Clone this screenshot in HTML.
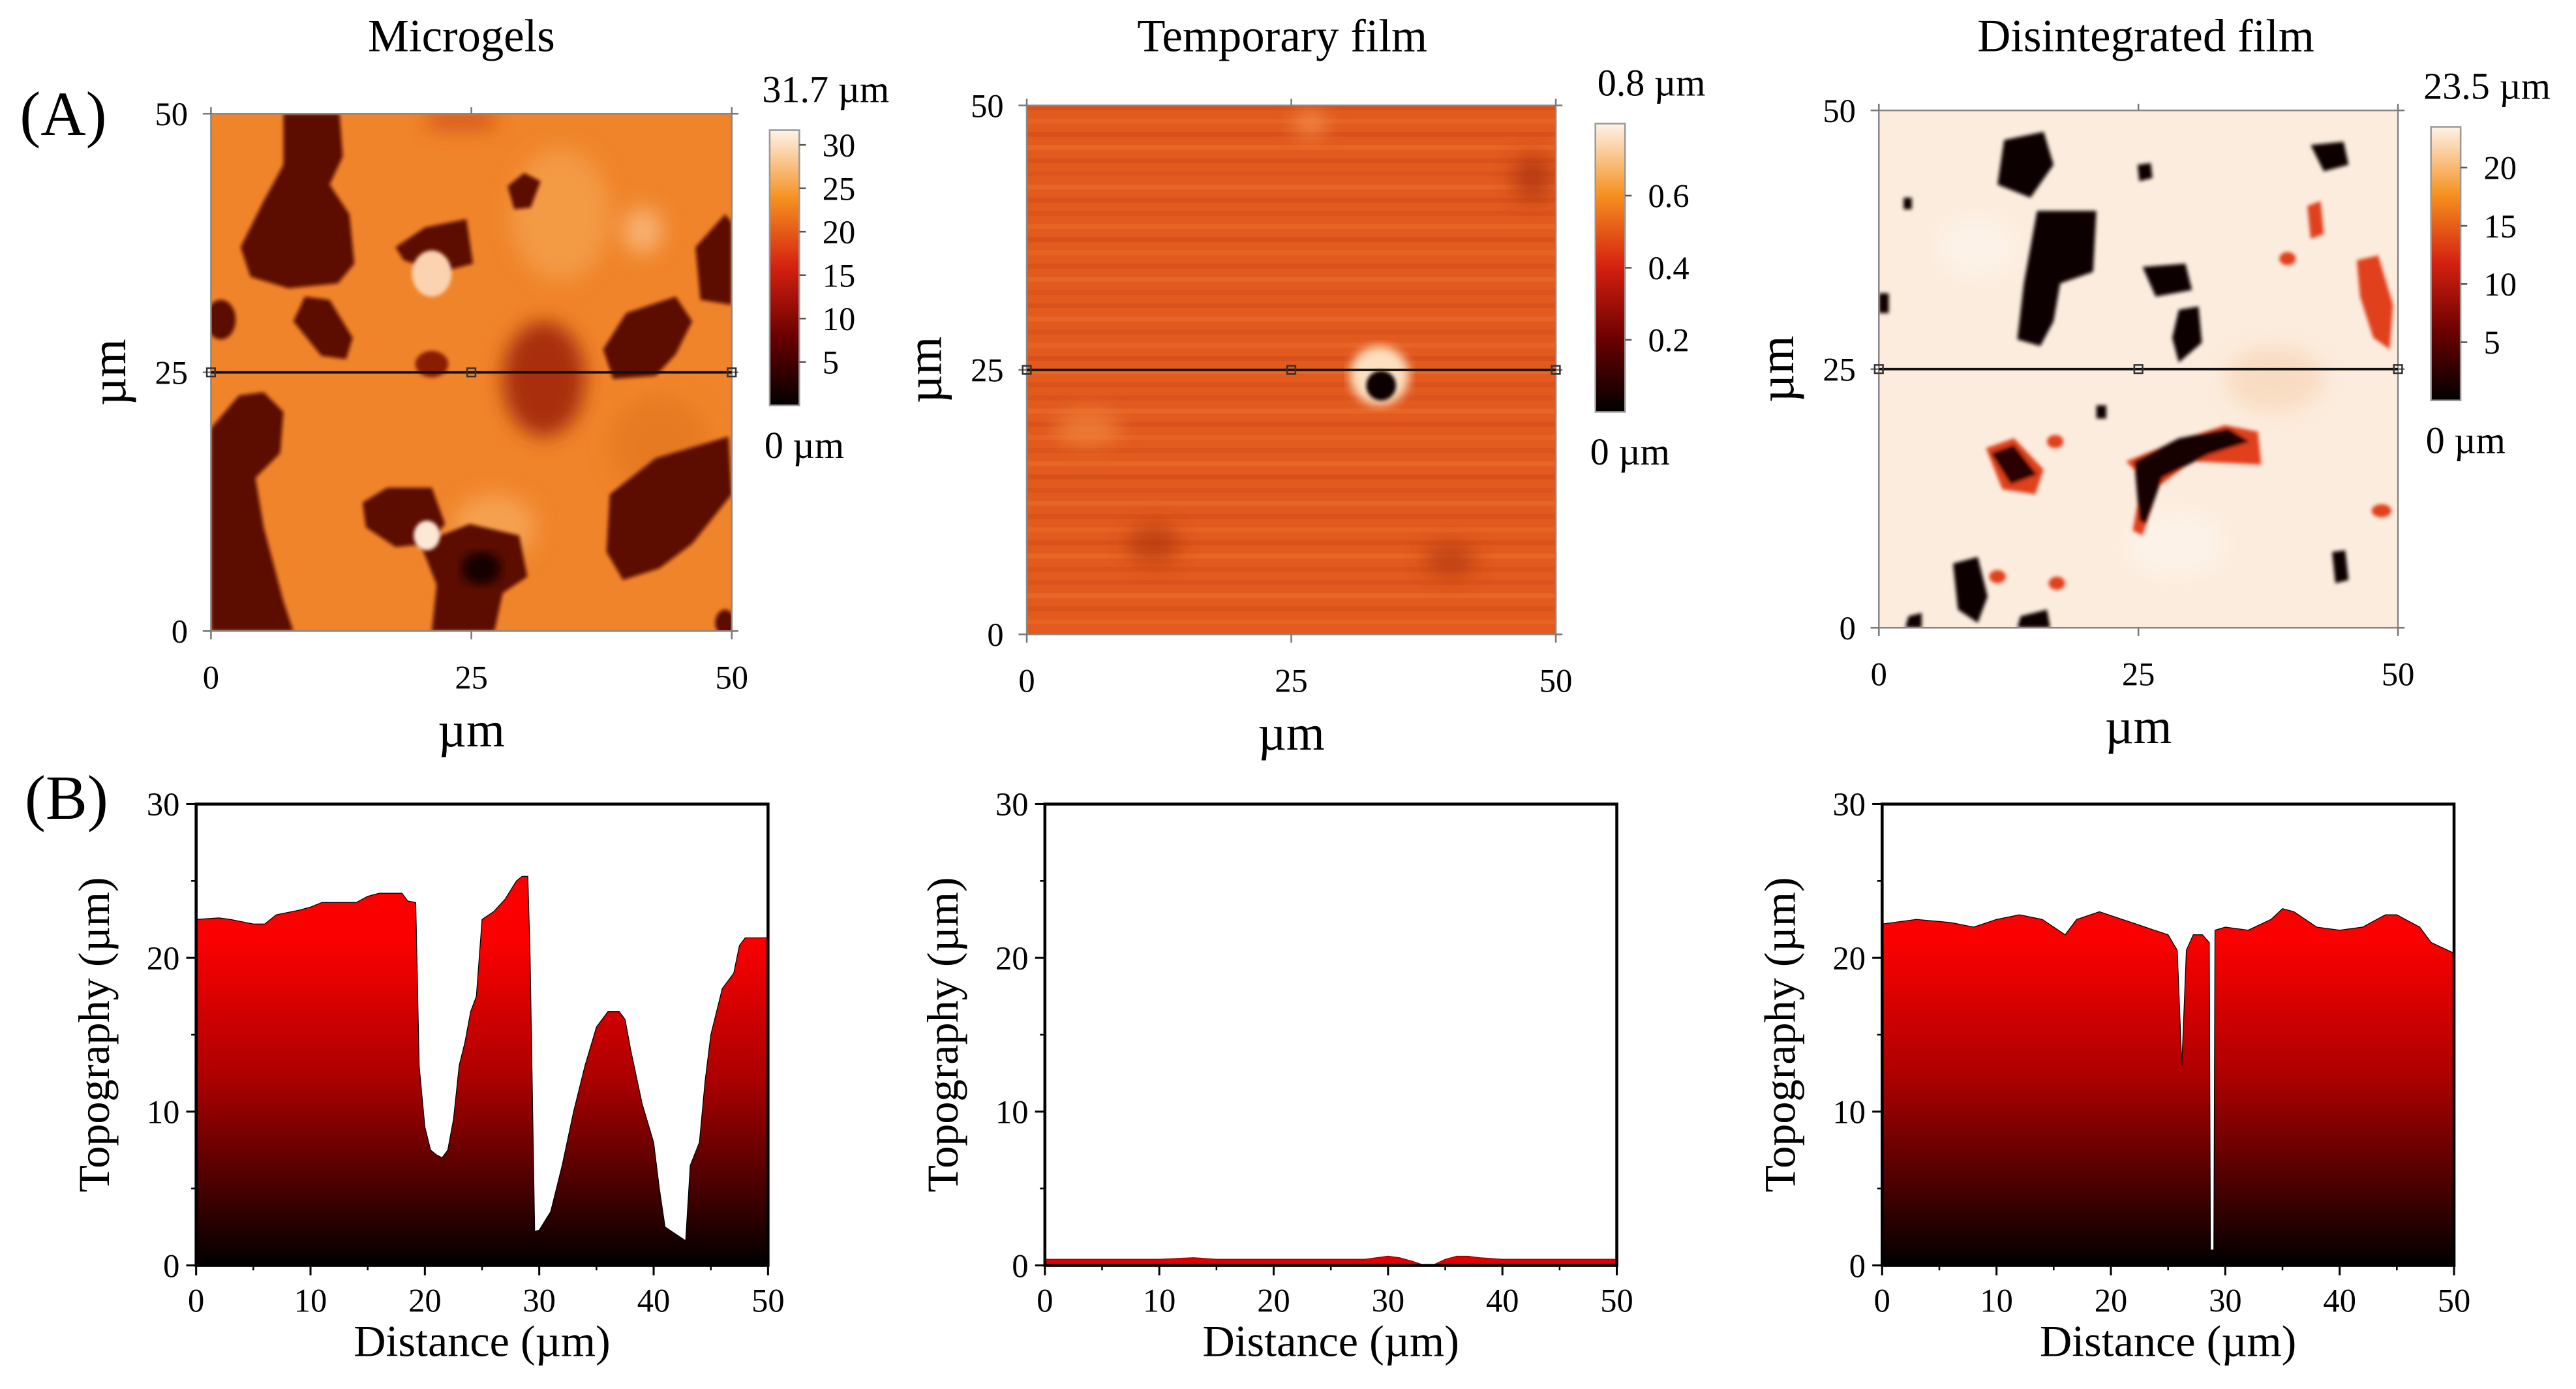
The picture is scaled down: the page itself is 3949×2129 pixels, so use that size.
<!DOCTYPE html>
<html><head><meta charset="utf-8"><style>
html,body{margin:0;padding:0;background:#fff;}
svg{display:block;font-family:"Liberation Serif",serif;}
</style></head><body>
<svg id="fig" width="3949" height="2129" viewBox="0 0 1563 843" preserveAspectRatio="none" xmlns="http://www.w3.org/2000/svg">
<defs>
<linearGradient id="cbar" x1="0" y1="1" x2="0" y2="0">
<stop offset="0" stop-color="#000"/><stop offset="0.25" stop-color="#6a0000"/><stop offset="0.5" stop-color="#d42010"/><stop offset="0.75" stop-color="#f5901e"/><stop offset="1" stop-color="#fdf3e8"/>
</linearGradient>
<filter id="soft"><feGaussianBlur stdDeviation="1.2"/></filter>
<filter id="blur6"><feGaussianBlur stdDeviation="6"/></filter>
<filter id="blur3"><feGaussianBlur stdDeviation="3"/></filter>
<clipPath id="c1"><rect x="128" y="69" width="316" height="314"/></clipPath>
<clipPath id="c2"><rect x="623" y="64" width="321" height="321"/></clipPath>
<clipPath id="c3"><rect x="1140" y="67" width="315" height="314"/></clipPath>
</defs>

<text x="12" y="82" font-size="38">(A)</text>
<text x="15" y="497" font-size="38">(B)</text>

<text x="280" y="31" font-size="28" text-anchor="middle">Microgels</text>
<text x="778" y="31" font-size="28" text-anchor="middle">Temporary film</text>
<text x="1302" y="31" font-size="28" text-anchor="middle">Disintegrated film</text>

<!-- Map 1 -->
<g clip-path="url(#c1)">
<rect x="128" y="69" width="316" height="314" fill="#f0842a"/>
<g filter="url(#blur6)">
<ellipse cx="340" cy="130" rx="30" ry="40" fill="#f39a45"/>
<ellipse cx="330" cy="230" rx="25" ry="35" fill="#a82e0c"/>
<ellipse cx="400" cy="270" rx="30" ry="30" fill="#e67a22"/>
<ellipse cx="300" cy="320" rx="25" ry="20" fill="#f5a050"/>
<rect x="260" y="69" width="40" height="8" fill="#c84a14"/>
<ellipse cx="390" cy="140" rx="12" ry="14" fill="#f7b070"/>
</g>
<g filter="url(#soft)" fill="#5c0a02">
<path d="M172,69 L206,69 L208,95 L200,112 L212,130 L215,160 L205,172 L175,175 L152,168 L146,150 L160,122 L172,100 Z"/>
<ellipse cx="134" cy="194" rx="9" ry="12"/>
<path d="M185,180 L200,182 L214,205 L210,218 L195,216 L178,195 Z"/>
<path d="M240,150 L258,138 L283,133 L287,160 L268,165 L245,158 Z"/>
<path d="M308,113 L318,105 L328,110 L322,126 L312,127 Z"/>
<path d="M366,212 L380,190 L410,180 L420,195 L410,215 L398,228 L372,230 Z"/>
<path d="M128,260 L145,240 L160,238 L172,250 L170,275 L155,290 L160,320 L172,365 L178,383 L128,383 Z"/>
<path d="M220,305 L235,296 L262,296 L270,318 L260,330 L240,332 L222,320 Z"/>
<path d="M255,330 L285,318 L315,325 L320,350 L305,360 L300,383 L262,383 L265,355 Z"/>
<path d="M370,300 L398,278 L442,265 L444,300 L420,330 L400,345 L378,352 L368,335 Z"/>
<path d="M422,150 L440,130 L444,135 L444,185 L425,182 Z"/>
<ellipse cx="262" cy="221" rx="10" ry="8" fill="#8a1a04"/>
<ellipse cx="440" cy="378" rx="6" ry="8"/>
</g>
<ellipse cx="292" cy="345" rx="12" ry="10" fill="#150200" filter="url(#blur3)"/>
<ellipse cx="262" cy="166" rx="12" ry="14" fill="#fbd3b0" filter="url(#soft)"/>
<ellipse cx="259" cy="325" rx="8" ry="9" fill="#fde8d6" filter="url(#soft)"/>
</g>

<!-- Map 2 -->
<g clip-path="url(#c2)">
<rect x="623" y="64" width="321" height="321" fill="#e25a1e"/>
<g id="streaks2"></g>
<g filter="url(#blur6)" opacity="0.7">
<ellipse cx="930" cy="108" rx="12" ry="14" fill="#a8300c"/>
<ellipse cx="795" cy="75" rx="10" ry="8" fill="#f59a55"/>
<ellipse cx="700" cy="330" rx="16" ry="12" fill="#b23810"/>
<ellipse cx="880" cy="340" rx="16" ry="10" fill="#b23810"/>
<ellipse cx="660" cy="260" rx="20" ry="10" fill="#f08a40"/>
</g>
<circle cx="837" cy="228" r="18" fill="#fde0c0" filter="url(#blur3)"/>
<circle cx="838" cy="234" r="9" fill="#0a0000" filter="url(#soft)"/>
</g>

<!-- Map 3 -->
<g clip-path="url(#c3)">
<rect x="1140" y="67" width="315" height="314" fill="#fcecdd"/>
<g filter="url(#blur6)" opacity="0.6">
<ellipse cx="1200" cy="150" rx="25" ry="18" fill="#fdf6ee"/>
<ellipse cx="1380" cy="230" rx="30" ry="20" fill="#f7d2b0"/>
<ellipse cx="1320" cy="330" rx="30" ry="20" fill="#fdf6ee"/>
</g>
<g filter="url(#soft)">
<path d="M1430,158 L1443,155 L1452,185 L1450,212 L1440,205 L1432,180 Z" fill="#e0401a"/>
<path d="M1400,125 L1408,122 L1410,142 L1402,145 Z" fill="#e0401a"/>
<path d="M1205,272 L1222,266 L1240,285 L1235,300 L1215,297 Z" fill="#e0401a"/>
<path d="M1208,275 L1222,270 L1236,288 L1220,294 Z" fill="#2a0400"/>
<path d="M1290,280 L1320,268 L1350,258 L1370,262 L1372,282 L1330,280 L1310,295 L1300,325 L1294,322 L1300,290 Z" fill="#e0401a"/>
<path d="M1295,280 L1322,266 L1352,260 L1365,268 L1340,276 L1312,290 L1302,318 L1298,316 Z" fill="#150200"/>
<ellipse cx="1247" cy="268" rx="5" ry="4" fill="#e0401a"/>
<ellipse cx="1212" cy="350" rx="5" ry="4" fill="#e0401a"/>
<ellipse cx="1248" cy="354" rx="5" ry="4" fill="#e0401a"/>
<ellipse cx="1388" cy="157" rx="5" ry="4" fill="#e0401a"/>
<ellipse cx="1445" cy="310" rx="6" ry="4" fill="#e0401a"/>
<g fill="#0a0000">
<path d="M1216,85 L1240,80 L1246,100 L1232,120 L1212,112 Z"/>
<path d="M1236,128 L1272,128 L1270,165 L1250,172 L1246,195 L1238,210 L1224,206 L1228,172 L1232,150 Z"/>
<path d="M1297,100 L1305,99 L1306,108 L1298,110 Z"/>
<path d="M1402,88 L1422,86 L1425,100 L1410,104 Z"/>
<path d="M1300,162 L1326,160 L1330,176 L1308,180 Z"/>
<path d="M1322,188 L1334,186 L1336,208 L1322,220 L1318,205 Z"/>
<path d="M1185,342 L1200,338 L1206,362 L1200,378 L1188,370 Z"/>
<path d="M1415,335 L1423,334 L1425,352 L1417,354 Z"/>
<path d="M1155,120 L1160,120 L1160,127 L1155,127 Z"/>
<path d="M1140,178 L1146,178 L1146,190 L1140,190 Z"/>
<path d="M1272,246 L1278,246 L1278,254 L1272,254 Z"/>
<path d="M1158,374 L1166,372 L1166,381 L1156,381 Z"/>
<path d="M1226,374 L1242,370 L1244,381 L1224,381 Z"/>
</g>
</g>
</g>

<g id="maps-axes"></g>
<g id="profiles"></g>

<script>
// ---- Profile data (Distance µm, Topography µm) ----
const prof1X = [0,2,3,5,6,7,9,10,11,14,15,16,18,18.5,19.2,19.5,20,20.5,21,21.5,22,22.5,23,23.5,24,24.5,25,26,27,28,28.5,29,29.2,29.6,30,31,32,33,34,35,36,37,37.5,38,39,40,40.5,41,42,42.8,43.2,44,44.5,45,46,47,47.5,48,50];
const prof1Y = [22.5,22.6,22.5,22.2,22.2,22.8,23.1,23.3,23.6,23.6,24.0,24.2,24.2,23.7,23.6,13,9,7.5,7.2,7.0,7.5,9.5,13,14.5,16.5,17.5,22.5,23,23.8,25,25.3,25.3,20,2.2,2.3,3.5,6.5,10,13,15.5,16.5,16.5,16,14,10.5,8,5,2.5,2,1.6,6.5,8,12,15,18,19,20.8,21.3,21.3];
const prof2X = [0,5,10,13,15,20,25,28,29,30,31,32,33,33.5,34,35,36,37,38,40,45,50];
const prof2Y = [0.4,0.4,0.4,0.5,0.4,0.4,0.4,0.4,0.5,0.6,0.5,0.3,0.05,0,0.05,0.4,0.6,0.6,0.5,0.4,0.4,0.4];
const prof3X = [0,3,6,8,10,12,14,16,17,19,21,23,25,25.8,26.2,26.6,27.2,28,28.6,28.7,29.0,29.1,30,32,34,35,36,38,40,42,44,45,47,48,50];
const prof3Y = [22.2,22.5,22.3,22.0,22.5,22.8,22.5,21.5,22.5,23,22.5,22.0,21.5,20.5,13,20.5,21.5,21.5,21,1,1,21.8,22,21.8,22.5,23.2,23,22,21.8,22,22.8,22.8,22,21,20.3];
const xTicks = [0,10,20,30,40,50];
const yTicks = [0,10,20,30];
const mapTicks = [0,25,50];
const cbarTicks1 = [5,10,15,20,25,30];
const cbarTicks2 = [0.2,0.4,0.6];
const cbarTicks3 = [5,10,15,20];
const streakVals = [0.2,0.6,0.1,0.8,0.3,0.5,0.9,0.2,0.4,0.7,0.1,0.6,0.3,0.8,0.5,0.2,0.9,0.4,0.6,0.1,0.7,0.3,0.5,0.8,0.2,0.6,0.4,0.9,0.1,0.5,0.7,0.3,0.6,0.2,0.8,0.4,0.5,0.9,0.3,0.6];

const NS='http://www.w3.org/2000/svg';
function mk(tag, attrs, parent){const e=document.createElementNS(NS,tag);for(const k in attrs)e.setAttribute(k,attrs[k]);if(parent)parent.appendChild(e);return e;}

const st=document.getElementById('streaks2');
streakVals.forEach((v,i)=>{
  const r=mk('rect',{x:623,y:64+i*8,width:321,height:3,fill:v>0.5?'#f07a35':'#c84416',opacity:0.25+0.3*Math.abs(v-0.5)},st);
  
  
});

const maps=[
 {x0:128,y0:69,w:316,h:314,cb:[467,79,18,167],top:'31.7 µm',bot:'0 µm',ticks:cbarTicks1,max:31.7,name:'microgels'},
 {x0:623,y0:64,w:321,h:321,cb:[968,75,18,175],top:'0.8 µm',bot:'0 µm',ticks:cbarTicks2,max:0.8,name:'temporary-film'},
 {x0:1140,y0:67,w:315,h:314,cb:[1475,77,18,166],top:'23.5 µm',bot:'0 µm',ticks:cbarTicks3,max:23.5,name:'disintegrated-film'}
];
const ma=document.getElementById('maps-axes');
maps.forEach(m=>{
  const g=mk('g',{},ma);
  
  
  const fx=v=>m.x0+v/50*m.w, fy=v=>m.y0+m.h-v/50*m.h;
  mk('rect',{x:m.x0,y:m.y0,width:m.w,height:m.h,fill:'none',stroke:'#888','stroke-width':1},g);
  mapTicks.forEach(t=>{
    mk('line',{x1:fx(t),x2:fx(t),y1:m.y0+m.h,y2:m.y0+m.h+5,stroke:'#777'},g);
    mk('line',{x1:fx(t),x2:fx(t),y1:m.y0,y2:m.y0-4,stroke:'#777'},g);
    mk('line',{x1:m.x0-5,x2:m.x0,y1:fy(t),y2:fy(t),stroke:'#777'},g);
    mk('line',{x1:m.x0+m.w,x2:m.x0+m.w+4,y1:fy(t),y2:fy(t),stroke:'#777'},g);
    const tx=mk('text',{x:fx(t),y:m.y0+m.h+35,'font-size':20,'text-anchor':'middle'},g);tx.textContent=t;
    
    
    const ty=mk('text',{x:m.x0-14,y:fy(t)+7,'font-size':20,'text-anchor':'end'},g);ty.textContent=t;
    
    
  });
  const ly=fy(25);
  const ln=mk('line',{x1:m.x0,x2:m.x0+m.w,y1:ly,y2:ly,stroke:'#111','stroke-width':1.5},g);
  
  
  [0,25,50].forEach(t=>mk('rect',{x:fx(t)-2.5,y:ly-2.5,width:5,height:5,fill:'none',stroke:'#333','stroke-width':1},g));
  const xl=mk('text',{x:m.x0+m.w/2,y:m.y0+m.h+70,'font-size':30,'text-anchor':'middle'},g);xl.textContent='µm';
  
  
  const yl=mk('text',{x:0,y:0,'font-size':30,'text-anchor':'middle',transform:`translate(${m.x0-52},${m.y0+m.h/2}) rotate(-90)`},g);yl.textContent='µm';
  
  
  const [cx,cy,cw,ch]=m.cb;
  const cbr=mk('rect',{x:cx,y:cy,width:cw,height:ch,fill:'url(#cbar)',stroke:'#999','stroke-width':1},g);
  
  
  m.ticks.forEach(t=>{
    const yy=cy+ch-t/m.max*ch;
    mk('line',{x1:cx+cw,x2:cx+cw+4,y1:yy,y2:yy,stroke:'#555'},g);
    const tl=mk('text',{x:cx+cw+14,y:yy+7,'font-size':20},g);tl.textContent=t;
    
    
  });
  const tt=mk('text',{x:cx+cw/2+25,y:cy-17,'font-size':23,'text-anchor':'middle'},g);tt.textContent=m.top;
  
  
  const bt=mk('text',{x:cx+cw/2+12,y:cy+ch+32,'font-size':23,'text-anchor':'middle'},g);bt.textContent=m.bot;
  
  
});

const plots=[{x0:119,X:prof1X,Y:prof1Y,n:'microgels'},{x0:634,X:prof2X,Y:prof2Y,n:'temporary-film'},{x0:1142,X:prof3X,Y:prof3Y,n:'disintegrated-film'}];
const pr=document.getElementById('profiles');
const defs=document.querySelector('defs');
plots.forEach((p,i)=>{
  const W=347,H=280,y0=488;
  const fx=v=>p.x0+v/50*W, fy=v=>y0+H-v/30*H;
  const gr=mk('linearGradient',{id:'pg'+i,gradientUnits:'userSpaceOnUse',x1:0,y1:fy(30),x2:0,y2:fy(0)},defs);
  mk('stop',{offset:0,'stop-color':'#ff0000'},gr);
  mk('stop',{offset:0.3,'stop-color':'#fa0000'},gr);
  mk('stop',{offset:0.6,'stop-color':'#aa0000'},gr);
  mk('stop',{offset:1,'stop-color':'#000000'},gr);
  const g=mk('g',{},pr);
  
  
  let d=`M${fx(p.X[0])},${fy(0)}`;
  p.X.forEach((x,k)=>{d+=` L${fx(x).toFixed(2)},${fy(p.Y[k]).toFixed(2)}`;});
  d+=` L${fx(p.X[p.X.length-1])},${fy(0)} Z`;
  const area=mk('path',{d:d,fill:i===1?'#e00000':`url(#pg${i})`,stroke:i===1?'#900':'#000','stroke-width':0.5},g);
  
  
  mk('rect',{x:p.x0,y:y0,width:W,height:H,fill:'none',stroke:'#000','stroke-width':1.8},g);
  xTicks.forEach(t=>{
    mk('line',{x1:fx(t),x2:fx(t),y1:y0+H,y2:y0+H+6,stroke:'#000','stroke-width':1.2},g);
    if(t<50) mk('line',{x1:fx(t+5),x2:fx(t+5),y1:y0+H,y2:y0+H+3,stroke:'#000','stroke-width':1},g);
    const tx=mk('text',{x:fx(t),y:y0+H+28,'font-size':20,'text-anchor':'middle'},g);tx.textContent=t;
    
    
  });
  yTicks.forEach(t=>{
    mk('line',{x1:p.x0-6,x2:p.x0,y1:fy(t),y2:fy(t),stroke:'#000','stroke-width':1.2},g);
    if(t<30) mk('line',{x1:p.x0-3,x2:p.x0,y1:fy(t+5),y2:fy(t+5),stroke:'#000','stroke-width':1},g);
    const ty=mk('text',{x:p.x0-10,y:fy(t)+7,'font-size':20,'text-anchor':'end'},g);ty.textContent=t;
    
    
  });
  const xl=mk('text',{x:p.x0+W/2,y:y0+H+55,'font-size':27,'text-anchor':'middle'},g);xl.textContent='Distance (µm)';
  
  
  const yl=mk('text',{x:0,y:0,'font-size':27,'text-anchor':'middle',transform:`translate(${p.x0-53},${y0+H/2}) rotate(-90)`},g);yl.textContent='Topography (µm)';
  
  
});
</script>
</svg>
</body></html>
